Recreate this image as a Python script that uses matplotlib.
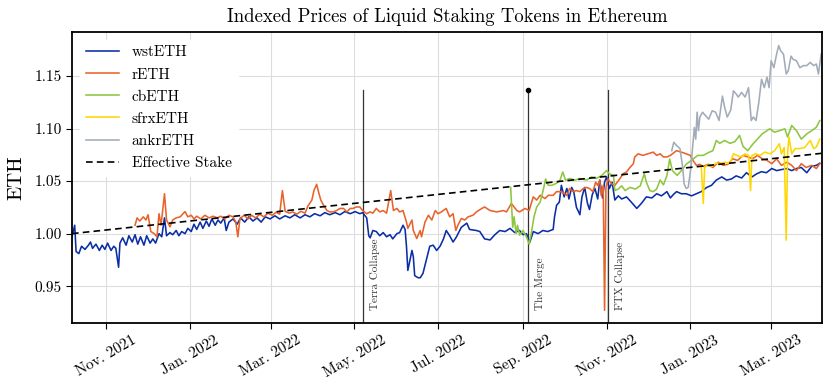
import matplotlib
matplotlib.use("Agg")
import matplotlib.pyplot as plt
import matplotlib.dates as mdates
import pandas as pd

plt.rcParams['font.family'] = 'serif'
plt.rcParams['font.serif'] = ['cmr10', 'DejaVu Serif']
plt.rcParams['mathtext.fontset'] = 'cm'
plt.rcParams['axes.formatter.use_mathtext'] = True

BASE = pd.Timestamp("2021-10-07")

wst_days = [0, 1.5, 2, 3, 5, 7, 9.5, 12, 13.5, 15, 17.5, 20, 22, 24, 26, 28.5, 30.5, 32, 34, 35,
            37, 39.5, 41.5, 44, 46, 48, 50, 52.5, 54.5, 57, 59, 61, 63.5, 65.5, 67.5, 69, 71.5, 73.5,
            76, 78, 80, 82.5, 84.5, 87, 89, 91, 93.5, 95.5, 98, 100, 102, 104.5, 106.5, 108.5, 111,
            112.5, 114.5, 117.5, 120.5, 123, 126, 129, 132, 135, 138, 141, 144.5, 148, 151.5, 155.5,
            159, 162.5, 166.5, 170, 173.5, 177, 181, 184.5, 188, 192, 195.5, 199, 203, 206.5, 210,
            212, 215, 216.5, 217.5, 219.5, 222, 224.5, 227, 229.5, 232, 234, 237, 239, 241.5, 243,
            244, 245, 248, 249, 250, 252.5, 254, 256, 258.5, 261, 263.5, 266, 268.5, 271, 273,
            275.5, 278, 280.5, 284, 288, 290, 295, 297.5, 301, 305, 308.5, 312, 316, 319.5, 323,
            326.5, 329, 331.5, 334, 336.5, 340, 343.5, 347, 351, 352, 353.5, 355.5, 357, 359, 361,
            362.5, 364.5, 366, 368, 370.5, 372, 374, 376, 377.5, 379.5, 381.5, 383.5, 385, 387,
            388.5, 390, 392, 394, 396, 398.5, 401, 404.5, 408, 412, 415.5, 419, 423, 426.5, 430,
            434, 436.5, 438.5, 441, 444.5, 448, 452, 455.5, 459, 463, 466.5, 470, 474, 477.5, 481,
            484.5, 488.5, 492, 496, 499.5, 503, 506.5, 510.5, 514, 517.5, 521.5, 525, 528.5, 532,
            536, 539.5, 543, 545.5]
wst_vals = [0.997, 1.005, 1.008, 0.983, 0.981, 0.988, 0.985, 0.989, 0.992, 0.986, 0.990, 0.984,
            0.989, 0.985, 0.991, 0.984, 0.988, 0.986, 0.968, 0.991, 0.996, 0.989, 0.998, 0.992,
            0.999, 0.990, 0.997, 0.989, 0.998, 0.991, 0.995, 0.991, 1.000, 0.997, 1.015, 0.998,
            1.001, 0.999, 1.003, 0.998, 1.002, 1.000, 1.005, 1.002, 1.009, 1.004, 1.011, 1.005,
            1.012, 1.007, 1.014, 1.008, 1.013, 1.010, 1.015, 1.003, 1.011, 1.014, 1.009, 1.015,
            1.011, 1.016, 1.012, 1.015, 1.011, 1.016, 1.014, 1.017, 1.014, 1.017, 1.015, 1.018,
            1.015, 1.018, 1.016, 1.019, 1.017, 1.020, 1.018, 1.020, 1.018, 1.021, 1.019, 1.021,
            1.019, 1.020, 1.015, 0.998, 0.996, 1.003, 1.002, 0.998, 1.001, 0.997, 0.999, 0.995,
            1.000, 1.001, 1.008, 1.004, 0.988, 0.965, 0.984, 0.978, 0.960, 0.958, 0.958, 0.962,
            0.975, 0.988, 0.989, 0.984, 0.988, 0.995, 1.003, 0.998, 0.992, 0.997, 1.006, 1.010,
            1.004, 1.003, 1.002, 0.995, 0.994, 0.999, 1.003, 1.002, 1.005, 1.001, 1.003, 0.999,
            1.000, 0.992, 1.002, 1.000, 1.003, 1.002, 1.004, 1.016, 1.027, 1.030, 1.046, 1.035,
            1.043, 1.033, 1.044, 1.040, 1.025, 1.018, 1.035, 1.044, 1.029, 1.023, 1.037, 1.043,
            1.033, 1.051, 1.034, 1.049, 1.054, 1.043, 1.049, 1.032, 1.036, 1.033, 1.035, 1.030,
            1.024, 1.029, 1.035, 1.034, 1.038, 1.036, 1.040, 1.034, 1.037, 1.040, 1.038, 1.038,
            1.036, 1.038, 1.040, 1.044, 1.046, 1.051, 1.054, 1.051, 1.052, 1.055, 1.053, 1.058,
            1.054, 1.057, 1.059, 1.058, 1.062, 1.060, 1.061, 1.062, 1.060, 1.062, 1.063, 1.058,
            1.064, 1.065, 1.067]

reth_days = [46, 47.5, 49.5, 52, 54, 55.5, 57.5, 60, 62, 63.5, 65, 67.5, 69, 71.5, 73.5, 76, 79,
             81, 82.5, 84.5, 87, 89, 91, 94, 97, 100, 103, 106, 108.5, 111.5, 114.5, 117.5, 119.5,
             121, 122.5, 125.5, 128.5, 131, 134, 137, 140, 143, 146, 149, 151.5, 153.5, 155.5,
             158.5, 161, 164, 167, 170, 172, 175, 176.5, 178.5, 180, 181.5, 183.5, 186, 188,
             190.5, 193, 195.5, 198, 200.5, 203, 205, 207.5, 210, 212, 215, 217.5, 219.5, 222,
             224.5, 227, 229.5, 232.5, 234.5, 237, 239, 241.5, 244, 245, 248, 249, 251.5, 254,
             255, 257.5, 260, 262.5, 265, 267, 269.5, 273, 275.5, 278, 280, 281.5, 284, 286.5,
             289, 292.5, 295, 299, 301, 305, 310, 314.5, 317, 320.5, 324.5, 326.5, 330.5, 333.5,
             335, 336.5, 339, 341.5, 345, 347.5, 351, 353.5, 357, 361, 363, 365.5, 368, 370.5,
             373, 375.5, 377.5, 380, 382, 383.5, 385, 386, 387.5, 388.5, 389.5, 391, 393.5, 396,
             399.5, 402, 404.5, 407, 409.5, 410.5, 413, 416.5, 420, 424, 426.5, 429, 431.5, 434,
             436.5, 441, 446, 451, 453, 455.5, 458, 460.5, 464, 467.5, 471.5, 475, 478.5, 482,
             485.5, 489.5, 493, 496.5, 500, 503.5, 507, 510.5, 514, 517.5, 521.5, 525, 528.5,
             532, 535.5, 539.5, 543, 545.5]
reth_vals = [1.008, 1.015, 1.012, 1.016, 1.013, 1.018, 1.002, 1.000, 0.997, 1.019, 1.008, 1.038,
             1.013, 1.0065, 1.013, 1.015, 1.016, 1.019, 1.021, 1.016, 1.0175, 1.014, 1.0166,
             1.014, 1.0175, 1.015, 1.0166, 1.015, 1.0166, 1.014, 1.0175, 1.016, 1.011, 0.997,
             1.014, 1.0175, 1.014, 1.0175, 1.015, 1.0185, 1.016, 1.0195, 1.0175, 1.0204, 1.0185,
             1.041, 1.0213, 1.0195, 1.0207, 1.0185, 1.0213, 1.0195, 1.026, 1.032, 1.041, 1.047,
             1.039, 1.032, 1.027, 1.022, 1.0207, 1.0207, 1.022, 1.024, 1.024, 1.0207, 1.024,
             1.024, 1.0254, 1.0254, 1.022, 1.019, 1.0207, 1.0195, 1.024, 1.0207, 1.022, 1.0195,
             1.041, 1.022, 1.024, 1.0207, 1.022, 1.011, 1.005, 1.013, 1.003, 0.9954, 1.003,
             0.997, 1.011, 1.0175, 1.013, 1.022, 1.019, 1.0207, 1.024, 1.016, 1.019, 1.003,
             1.008, 1.0144, 1.013, 1.016, 1.0175, 1.0207, 1.024, 1.0254, 1.022, 1.0207, 1.022,
             1.0207, 1.0287, 1.022, 1.0207, 1.024, 1.022, 1.0287, 1.035, 1.032, 1.0365, 1.0334,
             1.0365, 1.0365, 1.040, 1.040, 1.0365, 1.043, 1.040, 1.041, 1.040, 1.043, 1.044,
             1.043, 1.040, 1.049, 1.046, 1.051, 1.0365, 1.046, 0.927, 1.044, 1.052, 1.0476,
             1.046, 1.052, 1.057, 1.0587, 1.063, 1.0666, 1.073, 1.076, 1.0745, 1.076, 1.0776,
             1.0745, 1.076, 1.073, 1.073, 1.0745, 1.079, 1.077, 1.0745, 1.0697, 1.065, 1.066,
             1.064, 1.066, 1.063, 1.068, 1.065, 1.066, 1.0713, 1.0697, 1.0745, 1.073, 1.0713,
             1.0745, 1.0713, 1.0697, 1.0666, 1.0713, 1.065, 1.068, 1.065, 1.060, 1.0666, 1.063,
             1.065, 1.062, 1.0666]

cbeth_days = [320, 321.5, 322.5, 324, 325, 326.5, 329, 331.5, 333.5, 335, 337, 339, 341.5, 343.5,
              345.5, 347.5, 350, 353.5, 356, 358, 360, 363, 367, 370.5, 375.5, 379, 382.5, 386.5,
              390, 392, 395, 396, 398.5, 401, 403.5, 407, 411, 414.5, 417.5, 419, 421.5, 424,
              426.5, 429, 431.5, 434, 436, 438, 441.5, 444.5, 448, 453, 456.5, 460.5, 464, 467.5,
              470, 472.5, 476, 480, 483.5, 487, 489.5, 493, 496.5, 500, 503.5, 509, 512.5, 516,
              520, 522, 525, 528.5, 532, 536, 539.5, 543, 545.5]
cbeth_vals = [1.044, 1.006, 1.016, 1.000, 1.008, 0.9986, 1.003, 0.997, 0.990, 1.000, 1.016, 1.0254,
              1.030, 1.040, 1.052, 1.046, 1.046, 1.048, 1.051, 1.0587, 1.051, 1.0525, 1.051,
              1.0525, 1.051, 1.054, 1.0525, 1.0555, 1.060, 1.057, 1.0555, 1.041, 1.0425, 1.0455,
              1.041, 1.044, 1.0425, 1.0455, 1.057, 1.049, 1.041, 1.040, 1.0425, 1.051, 1.0465,
              1.0555, 1.071, 1.060, 1.0555, 1.060, 1.066, 1.071, 1.0745, 1.0745, 1.077, 1.079,
              1.0887, 1.086, 1.0887, 1.086, 1.0875, 1.0935, 1.083, 1.079, 1.085, 1.090, 1.095,
              1.0998, 1.0966, 1.098, 1.0998, 1.092, 1.103, 1.098, 1.090, 1.095, 1.098, 1.1013,
              1.1077]

sfrx_days = [459, 460.5, 461.5, 464.5, 467, 469.5, 473, 476.5, 480, 482.5, 485, 488.5, 491, 493.5,
             495, 496, 498.5, 502, 505.5, 509, 512.5, 516, 517.5, 519.5, 521, 522, 523, 525, 527.5,
             531, 534.5, 538.5, 541, 543, 545.5]
sfrx_vals = [1.065, 1.0287, 1.063, 1.066, 1.064, 1.067, 1.067, 1.068, 1.067, 1.076, 1.0745, 1.073,
             1.076, 1.0745, 1.041, 1.0745, 1.076, 1.0745, 1.0777, 1.076, 1.079, 1.0856, 1.076,
             1.082, 0.9938, 1.076, 1.092, 1.076, 1.081, 1.081, 1.082, 1.0887, 1.081, 1.0825,
             1.090]

ankr_days = [437.5, 439, 441, 443.5, 445.5, 446.5, 448, 449.5, 451.5, 452.5, 454, 455, 456, 457,
             458, 460, 462, 464.5, 467, 469.5, 472, 474.5, 476, 478, 480.5, 482.5, 484.5, 486,
             488.5, 491, 493.5, 495.5, 497, 499, 501, 503, 505, 507, 508.5, 510, 512, 514, 515.5,
             517, 519, 521, 522.5, 524.5, 526, 528.5, 531, 533.5, 536, 538.5, 541, 543, 544.5,
             546.5]
ankr_vals = [1.079, 1.087, 1.084, 1.081, 1.063, 1.0476, 1.043, 1.044, 1.063, 1.079, 1.101, 1.090,
             1.1156, 1.098, 1.111, 1.1156, 1.1125, 1.109, 1.117, 1.1156, 1.1077, 1.131, 1.1207,
             1.111, 1.1175, 1.136, 1.133, 1.130, 1.1345, 1.130, 1.139, 1.1077, 1.111, 1.1077,
             1.125, 1.147, 1.139, 1.149, 1.139, 1.1646, 1.158, 1.171, 1.179, 1.174, 1.171, 1.152,
             1.155, 1.169, 1.166, 1.1646, 1.158, 1.160, 1.160, 1.163, 1.160, 1.1615, 1.152, 1.171]

stake_days = [0, 547]
stake_vals = [1.000, 1.0765]

event_labels = ["Terra Collapse", "The Merge", "FTX Collapse"]
event_dates = ["2022-05-07", "2022-09-05", "2022-11-02"]
event_top = 1.137
label_base = 0.927


def to_dates(days):
    return BASE + pd.to_timedelta(days, unit="D")


fig = plt.figure(figsize=(8.31, 3.9), dpi=100)
ax = fig.add_axes([0.0866, 0.172, 0.9024, 0.746])

lw = 1.15
ax.plot(to_dates(wst_days), wst_vals, color="#0a2ea6", lw=lw, label="wstETH")
ax.plot(to_dates(reth_days), reth_vals, color="#e8632b", lw=lw, label="rETH")
ax.plot(to_dates(cbeth_days), cbeth_vals, color="#8dc63f", lw=lw, label="cbETH")
ax.plot(to_dates(sfrx_days), sfrx_vals, color="#ffd700", lw=lw, label="sfrxETH")
ax.plot(to_dates(ankr_days), ankr_vals, color="#a2acb9", lw=lw, label="ankrETH")
ax.plot(to_dates(stake_days), stake_vals, color="black", lw=1.2, ls=(0, (4, 2.5)),
        label="Effective Stake")

ylo, yhi = 0.915, 1.192
for lab, d in zip(event_labels, event_dates):
    dt = pd.Timestamp(d)
    ax.plot([dt, dt], [ylo, event_top], color="#333333", lw=0.9, zorder=1.5)
    ax.annotate(lab, xy=(dt, label_base), xytext=(5, 0), textcoords="offset points",
                rotation=90, ha="left", va="bottom", fontsize=8, color="#333333")
    if lab == "The Merge":
        ax.plot([dt], [event_top], marker="o", ms=3, color="black")

ax.set_xlim(BASE, BASE + pd.Timedelta(days=547))
ax.set_ylim(ylo, yhi)
ax.set_yticks([0.95, 1.00, 1.05, 1.10, 1.15])
ax.yaxis.set_major_formatter(matplotlib.ticker.FormatStrFormatter("%.2f"))
ax.xaxis.set_major_locator(mdates.MonthLocator(bymonth=[1, 3, 5, 7, 9, 11]))
ax.xaxis.set_major_formatter(mdates.DateFormatter("%b. %Y"))
for t in ax.get_xticklabels():
    t.set_rotation(30)
ax.tick_params(axis="both", labelsize=11, direction="out", length=4, width=0.8)
ax.grid(True, color="#dddddd", lw=0.8)
ax.set_axisbelow(True)
for s in ax.spines.values():
    s.set_linewidth(1.3)

ax.set_ylabel("ETH", fontsize=15, labelpad=6)
ax.set_title("Indexed Prices of Liquid Staking Tokens in Ethereum", fontsize=13.5, pad=7)
leg = ax.legend(loc="upper left", fontsize=11, frameon=True, framealpha=1.0,
                edgecolor="white", fancybox=False, handlelength=2.2, labelspacing=0.55,
                borderaxespad=0.5)

fig.savefig("out.png", dpi=100)
